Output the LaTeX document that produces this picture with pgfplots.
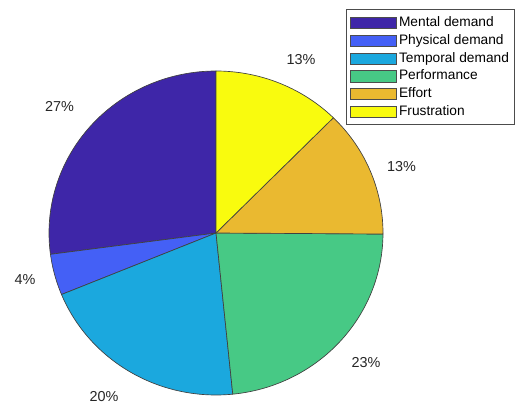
\documentclass[border=0pt]{standalone}
\usepackage{pgfplots}
\usepackage{pgfplotstable}
\pgfplotsset{compat=1.18}
\usepackage{fontspec}
\setmainfont{Liberation Sans}

\definecolor{cA}{RGB}{62,38,168}
\definecolor{cB}{RGB}{68,96,246}
\definecolor{cC}{RGB}{27,168,222}
\definecolor{cD}{RGB}{71,201,133}
\definecolor{cE}{RGB}{234,185,48}
\definecolor{cF}{RGB}{249,251,14}

\pgfplotstableread[col sep=comma]{
label,value
Mental demand,27.1
Physical demand,4.1
Temporal demand,20.4
Performance,23.3
Effort,12.7
Frustration,12.4
}\piedata

\newcommand\pieslice[2]{%
  \filldraw[fill=#2, draw=black!75, line width=0.5pt, line join=round]
    (axis cs:216,170) -- plot[domain={\csname pieS#1\endcsname}:{\csname pieE#1\endcsname}, samples=90, variable=\ang]
    (axis cs:{216+167*cos(\ang)},{170+162*sin(\ang)}) -- cycle;}

\begin{document}
\begin{tikzpicture}
\gdef\cum{90}
\pgfplotsforeachungrouped \i in {0,...,5}{%
  \pgfplotstablegetelem{\i}{value}\of\piedata
  \pgfmathsetmacro\pieb{\cum+3.6*\pgfplotsretval}%
  \expandafter\xdef\csname pieS\i\endcsname{\cum}%
  \expandafter\xdef\csname pieE\i\endcsname{\pieb}%
  \xdef\cum{\pieb}%
}
\begin{axis}[
  width=387pt, height=302.25pt, scale only axis,
  xmin=0, xmax=516, ymin=0, ymax=403,
  hide axis, clip=false,
  legend image code/.code={\draw[#1, line width=0.5pt] (0pt,-4.6pt) rectangle (34.5pt,3.9pt);},
  legend cell align=left,
  legend style={at={(axis description cs:0.6705,0.9777)}, anchor=north west,
    draw=black!70, line width=0.5pt, inner xsep=2.75pt, inner ysep=4.3pt,
    row sep=2.0pt, font=\fontsize{10.3}{12}\selectfont,
    nodes={inner sep=1pt, text height=7.8pt, text depth=1.5pt},
    /tikz/every odd column/.append style={column sep=0.8pt}},
]
\path (axis cs:0,0) rectangle (axis cs:516,403);
\pieslice{0}{cA}
\pieslice{1}{cB}
\pieslice{2}{cC}
\pieslice{3}{cD}
\pieslice{4}{cE}
\pieslice{5}{cF}

\addlegendimage{fill=cA, draw=black!70}
\addlegendimage{fill=cB, draw=black!70}
\addlegendimage{fill=cC, draw=black!70}
\addlegendimage{fill=cD, draw=black!70}
\addlegendimage{fill=cE, draw=black!70}
\addlegendimage{fill=cF, draw=black!70}
\legend{Mental demand, Physical demand, Temporal demand, Performance, Effort, Frustration}

\begin{scope}[every node/.style={inner sep=0pt, font=\fontsize{10.8}{13}\selectfont, text=black!85}]
\node at (axis cs:59.5,296.5) {27\%};
\node at (axis cs:25,123) {4\%};
\node at (axis cs:104,6) {20\%};
\node at (axis cs:366,40) {23\%};
\node at (axis cs:401.5,236.5) {13\%};
\node at (axis cs:301,343.5) {13\%};
\end{scope}
\end{axis}
\end{tikzpicture}
\end{document}
